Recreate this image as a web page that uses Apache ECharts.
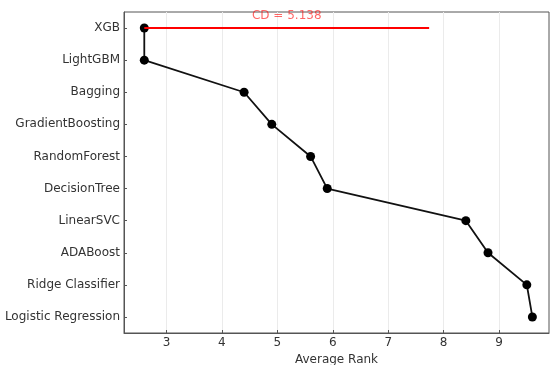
<!DOCTYPE html>
<html><head><meta charset="utf-8">
<script src="https://cdn.jsdelivr.net/npm/echarts@6/dist/echarts.min.js"></script>
<style>html,body{margin:0;padding:0;background:#fff}#c{width:550px;height:365px}</style>
</head><body><div id="c"></div>
<script>
const models = ['XGB','LightGBM','Bagging','GradientBoosting','RandomForest','DecisionTree','LinearSVC','ADABoost','Ridge Classifier','Logistic Regression'];
const ranks = [2.6, 2.6, 4.4, 4.9, 5.6, 5.9, 8.4, 8.8, 9.5, 9.6];
const cd = 5.138;
const xTicks = [3, 4, 5, 6, 7, 8, 9];
const xMin = 2.234, xMax = 9.9;

const chart = echarts.init(document.getElementById('c'));
const cdStart = ranks[0], cdEnd = ranks[0] + cd;
chart.setOption({
  animation: false,
  grid: {left: 124, right: 1, top: 12, bottom: 32, outerBoundsMode: 'none', containLabel: false,
    show: true, borderColor: '#555', borderWidth: 1},
  xAxis: {
    type: 'value', min: xMin, max: xMax,
    name: 'Average Rank', nameLocation: 'middle', nameGap: 20,
    nameTextStyle: {fontFamily: 'DejaVu Sans', fontSize: 12, color: '#333'},
    axisLine: {show: true, lineStyle: {color: '#555'}},
    axisTick: {show: true, inside: true, length: 3, customValues: xTicks, lineStyle: {color: '#555'}},
    axisLabel: {customValues: xTicks, fontFamily: 'DejaVu Sans', fontSize: 12, color: '#333', margin: 4},
    splitLine: {show: true, lineStyle: {color: '#ebebeb', width: 1}}
  },
  yAxis: {
    type: 'category', data: models, inverse: true, boundaryGap: true,
    axisLine: {show: true, lineStyle: {color: '#555'}},
    axisTick: {show: true, inside: true, length: 3, alignWithLabel: true, lineStyle: {color: '#555'}},
    axisLabel: {fontFamily: 'DejaVu Sans', fontSize: 12, color: '#333', margin: 4},
    splitLine: {show: false}
  },
  series: [
    {
      type: 'line', data: models.map((m, i) => [ranks[i], m]),
      lineStyle: {color: '#111', width: 1.8}, itemStyle: {color: '#000'},
      symbol: 'circle', symbolSize: 9, z: 3
    },
    {
      type: 'line', data: [[cdStart, models[0]], [cdEnd, models[0]]],
      lineStyle: {color: '#ff0000', width: 2}, symbol: 'none', z: 4
    },
    {
      type: 'scatter', data: [[(cdStart + cdEnd) / 2, models[0]]], symbolSize: 0,
      label: {show: true, position: 'top', distance: 6, formatter: 'CD = ' + cd.toFixed(3),
        fontFamily: 'DejaVu Sans', fontSize: 12, color: 'rgba(255,0,0,0.75)'},
      z: 5
    }
  ]
});
</script></body></html>
